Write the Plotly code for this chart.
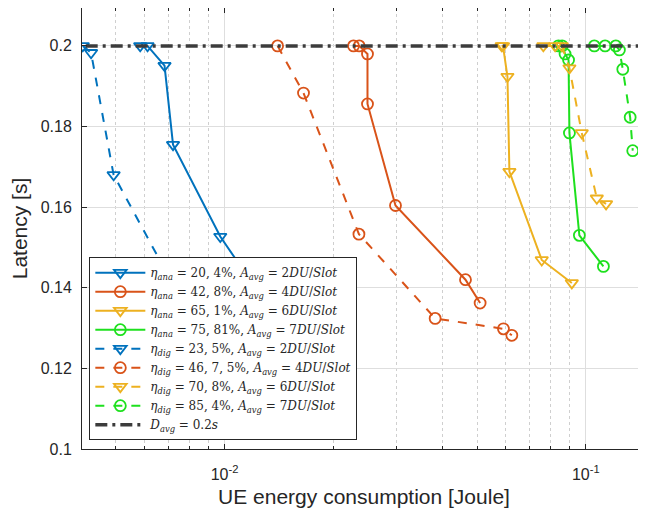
import numpy as np
import plotly.graph_objects as go

# ---- data ----
ana2_x = [0.00584, 0.00612, 0.00682, 0.00720, 0.00973, 0.0140]
ana2_y = [0.2, 0.2, 0.1951, 0.1755, 0.1527, 0.132]
ana4_x = [0.02275, 0.02359, 0.02487, 0.02487, 0.02973, 0.04645, 0.05099]
ana4_y = [0.2, 0.2, 0.198, 0.1856, 0.1604, 0.142, 0.1362]
ana6_x = [0.0585, 0.0590, 0.06069, 0.06146, 0.07553, 0.09149]
ana6_y = [0.2, 0.2, 0.1924, 0.1688, 0.1469, 0.1412]
ana7_x = [0.0840, 0.0860, 0.08763, 0.0896, 0.0901, 0.0960, 0.1119]
ana7_y = [0.2, 0.2, 0.198, 0.1965, 0.1784, 0.1530, 0.1453]

dig2_x = [0.00405, 0.00427, 0.00493, 0.0078]
dig2_y = [0.2, 0.1983, 0.168, 0.135]
dig4_x = [0.01402, 0.01654, 0.02355, 0.03828, 0.05916, 0.06241]
dig4_y = [0.2, 0.1883, 0.1533, 0.1324, 0.1298, 0.1282]
dig6_x = [0.0763, 0.08225, 0.08584, 0.0901, 0.09747, 0.1073, 0.1138]
dig6_y = [0.2, 0.2, 0.2, 0.1945, 0.1784, 0.1622, 0.1608]
dig7_x = [0.1056, 0.1131, 0.1211, 0.1239, 0.1266, 0.1327, 0.1349]
dig7_y = [0.2, 0.2, 0.2, 0.199, 0.1942, 0.1823, 0.174]

davg_x = [0.003, 0.2]
davg_y = [0.2, 0.2]

names = [
    "<i>η<sub>ana</sub></i> = 20, 4%, <i>A<sub>avg</sub></i> = 2<i>DU</i>/<i>Slot</i>",
    "<i>η<sub>ana</sub></i> = 42, 8%, <i>A<sub>avg</sub></i> = 4<i>DU</i>/<i>Slot</i>",
    "<i>η<sub>ana</sub></i> = 65, 1%, <i>A<sub>avg</sub></i> = 6<i>DU</i>/<i>Slot</i>",
    "<i>η<sub>ana</sub></i> = 75, 81%, <i>A<sub>avg</sub></i> = 7<i>DU</i>/<i>Slot</i>",
    "<i>η<sub>dig</sub></i> = 23, 5%, <i>A<sub>avg</sub></i> = 2<i>DU</i>/<i>Slot</i>",
    "<i>η<sub>dig</sub></i> = 46, 7, 5%, <i>A<sub>avg</sub></i> = 4<i>DU</i>/<i>Slot</i>",
    "<i>η<sub>dig</sub></i> = 70, 8%, <i>A<sub>avg</sub></i> = 6<i>DU</i>/<i>Slot</i>",
    "<i>η<sub>dig</sub></i> = 85, 4%, <i>A<sub>avg</sub></i> = 7<i>DU</i>/<i>Slot</i>",
    "<i>D<sub>avg</sub></i> = 0.2<i>s</i>",
]

xtick_vals = [0.01, 0.1]
xtick_text = ["10<sup>-2</sup>", "10<sup>-1</sup>"]
xminor_vals = [0.005, 0.006, 0.007, 0.008, 0.009,
               0.02, 0.03, 0.04, 0.05, 0.06, 0.07, 0.08, 0.09]
ytick_vals = [0.1, 0.12, 0.14, 0.16, 0.18, 0.2]

BLUE, ORANGE, YELLOW, GREEN = "#0072BD", "#D95319", "#EDB120", "#1EE01E"

series = [
    (ana2_x, ana2_y, BLUE, "solid", "triangle-down-open"),
    (ana4_x, ana4_y, ORANGE, "solid", "circle-open"),
    (ana6_x, ana6_y, YELLOW, "solid", "triangle-down-open"),
    (ana7_x, ana7_y, GREEN, "solid", "circle-open"),
    (dig2_x, dig2_y, BLUE, "dash", "triangle-down-open"),
    (dig4_x, dig4_y, ORANGE, "dash", "circle-open"),
    (dig6_x, dig6_y, YELLOW, "dash", "triangle-down-open"),
    (dig7_x, dig7_y, GREEN, "dash", "circle-open"),
]

fig = go.Figure()
for (xs, ys, col, dash, sym), nm in zip(series, names):
    fig.add_trace(go.Scatter(
        x=xs, y=ys, name=nm, mode="lines+markers",
        line=dict(color=col, width=2, dash=dash),
        marker=dict(symbol=sym, size=11, color=col, line=dict(width=1.8, color=col)),
    ))
fig.add_trace(go.Scatter(
    x=davg_x, y=davg_y, name=names[8], mode="lines",
    line=dict(color="#3c3c3c", width=3.5, dash="12px,5px,3px,5px"),
))

axis_font = dict(family="Liberation Sans, Arial, sans-serif", size=16, color="#262626")
fig.update_layout(
    width=638, height=500,
    margin=dict(l=73.7, r=0, t=0, b=58.7, autoexpand=False),
    paper_bgcolor="white", plot_bgcolor="white",
    showlegend=True,
    legend=dict(
        x=0.013, y=0.435, xanchor="left", yanchor="top",
        bgcolor="white", bordercolor="#262626", borderwidth=1,
        font=dict(family="DejaVu Serif, Liberation Serif, serif", size=12, color="#262626"),
        tracegroupgap=0, itemwidth=50,
    ),
    xaxis=dict(
        type="log", automargin=False,
        range=[np.log10(0.00403), np.log10(0.1468)],
        tickmode="array", tickvals=xtick_vals, ticktext=xtick_text,
        showgrid=True, gridcolor="#dedede", gridwidth=1,
        ticks="inside", ticklen=5, tickcolor="#262626",
        showline=True, linecolor="#262626", linewidth=1, mirror="ticks",
        zeroline=False,
        tickfont=axis_font, ticklabelstandoff=11,
        minor=dict(tickmode="array", tickvals=xminor_vals, showgrid=True,
                   gridcolor="#cfcfcf", griddash="dot", gridwidth=1,
                   ticks="inside", ticklen=3, tickcolor="#262626"),
        title=dict(text="UE energy consumption [Joule]",
                   font=dict(family="Liberation Sans, Arial, sans-serif", size=21, color="#262626"),
                   standoff=9),
    ),
    yaxis=dict(
        range=[0.1, 0.2094], automargin=False,
        tickmode="array", tickvals=ytick_vals,
        showgrid=True, gridcolor="#dedede", gridwidth=1,
        ticks="inside", ticklen=5, tickcolor="#262626",
        showline=True, linecolor="#262626", linewidth=1, mirror=False,
        zeroline=False,
        tickfont=axis_font, ticklabelstandoff=6,
        title=dict(text="Latency [s]",
                   font=dict(family="Liberation Sans, Arial, sans-serif", size=21, color="#262626"),
                   standoff=8),
    ),
)
fig.write_html("out.html")
